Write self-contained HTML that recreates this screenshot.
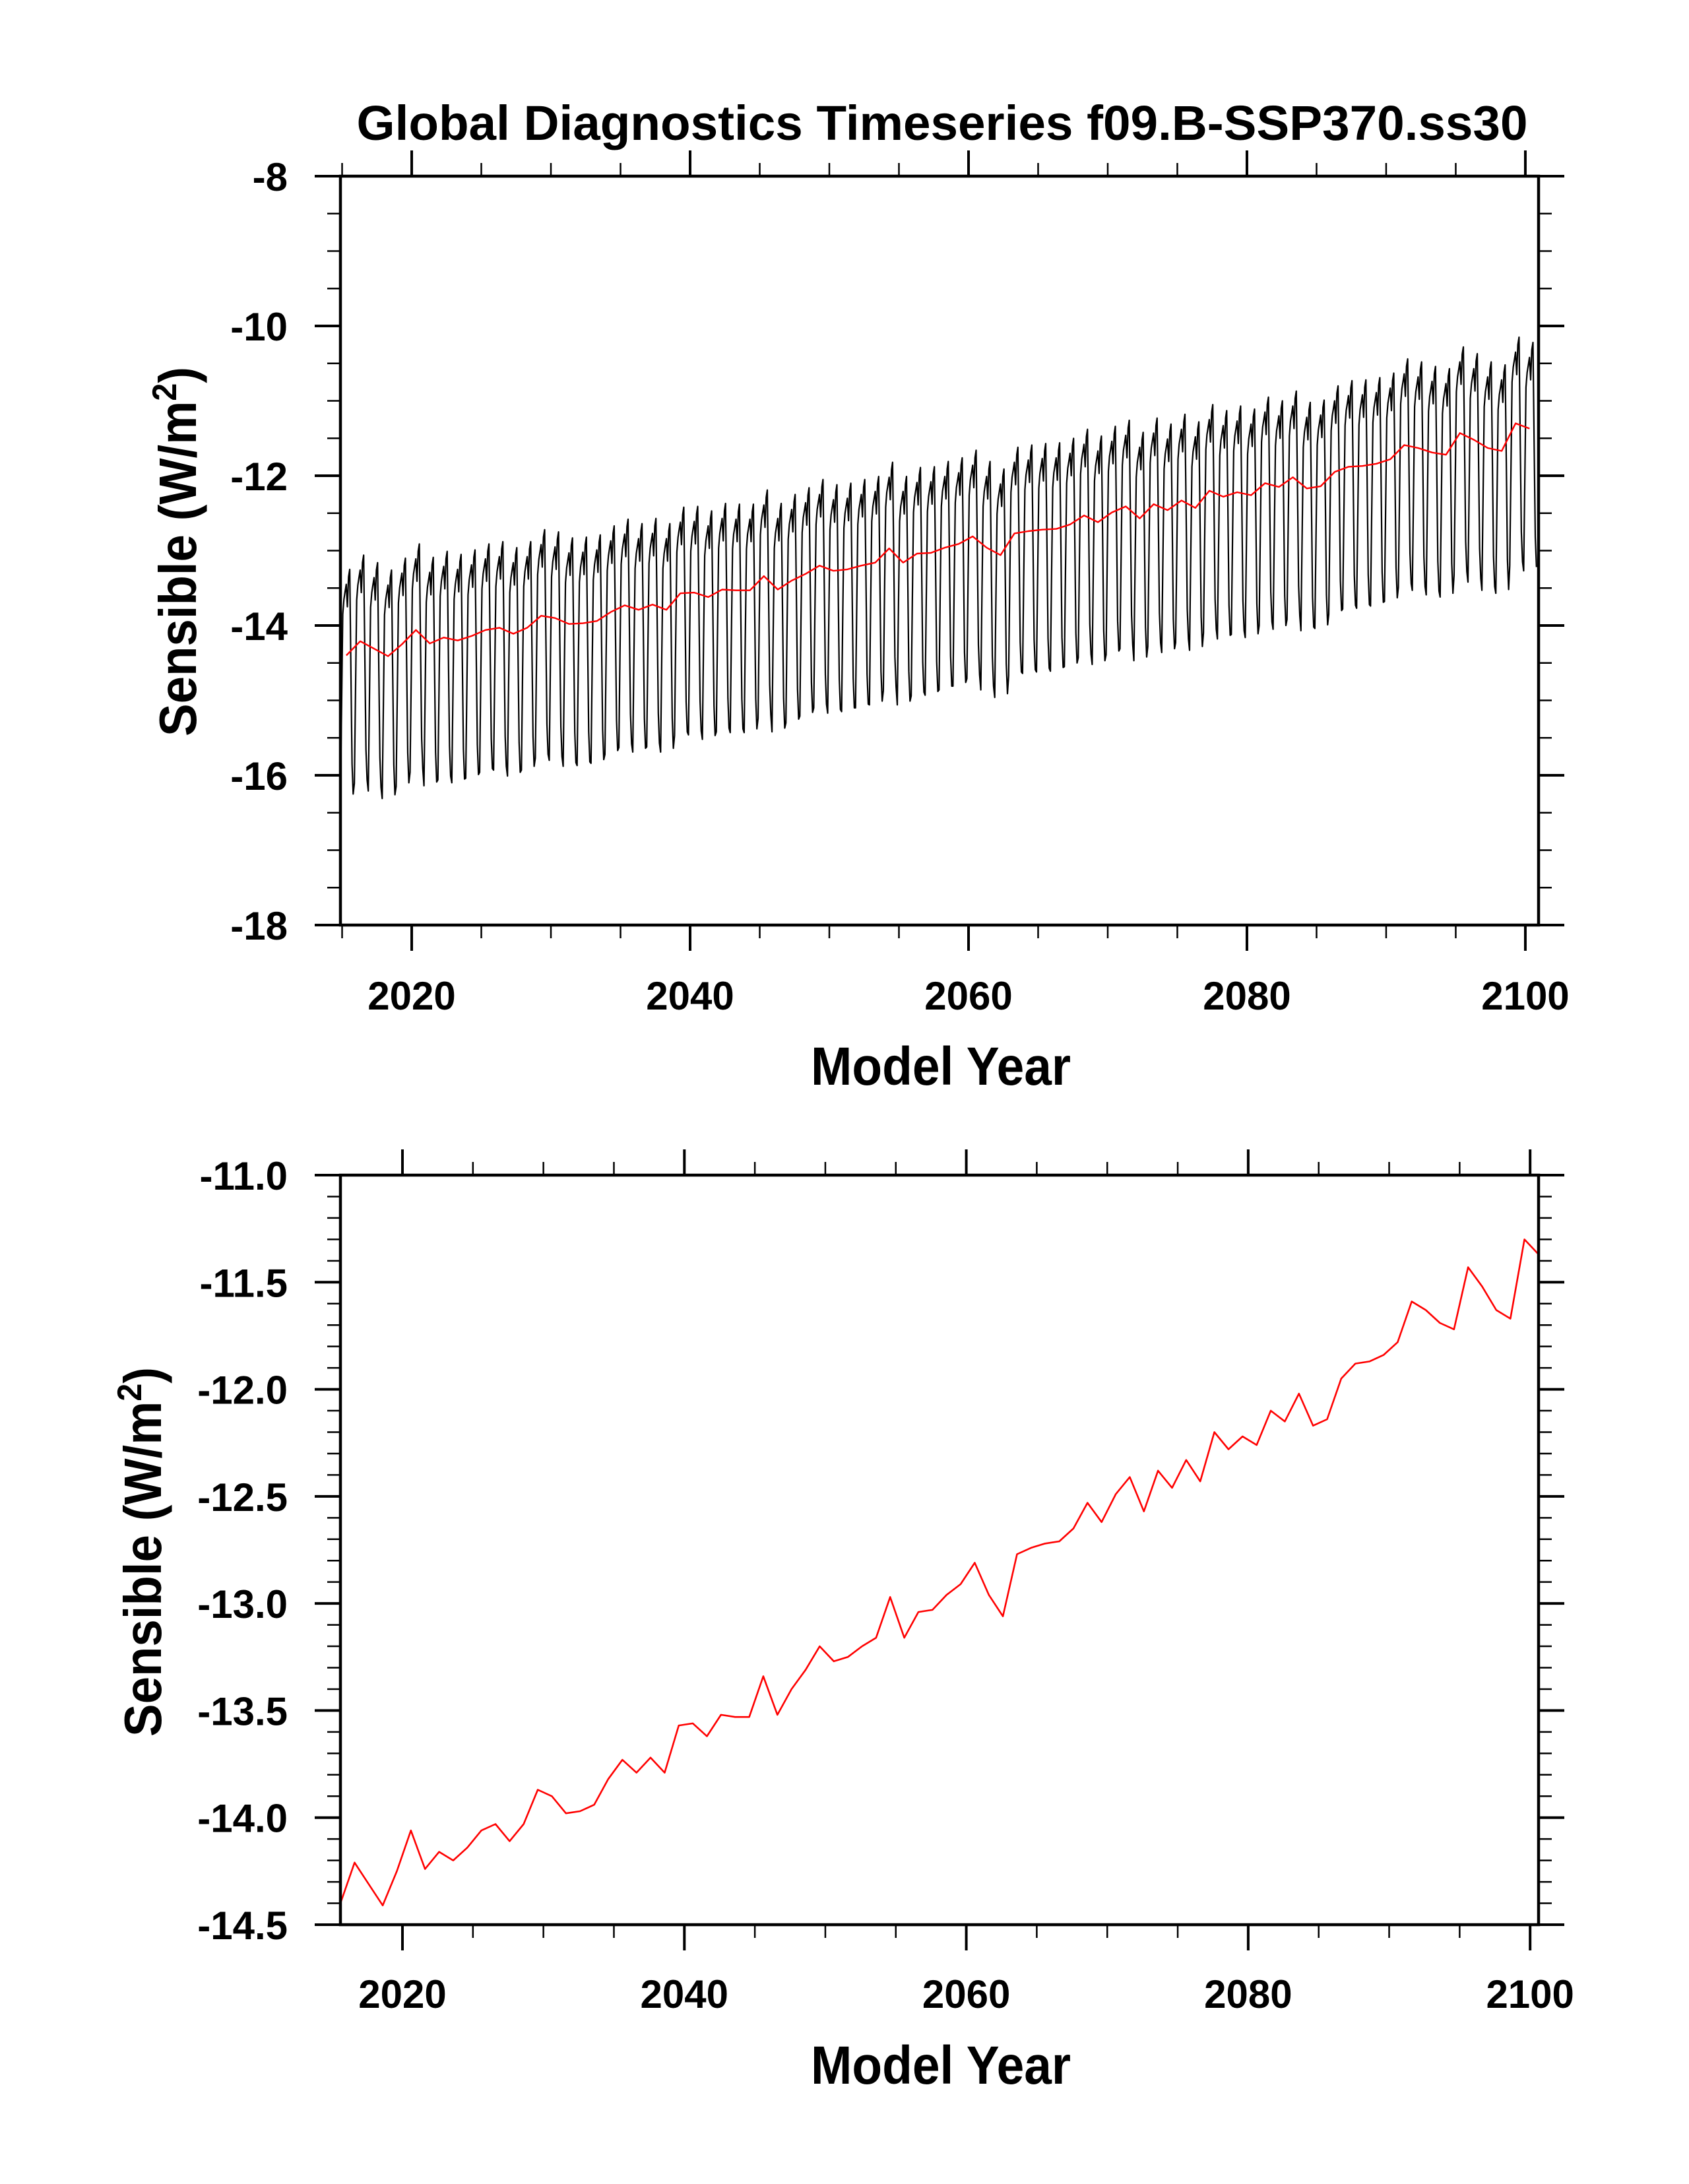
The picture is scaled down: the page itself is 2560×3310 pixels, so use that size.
<!DOCTYPE html>
<html><head><meta charset="utf-8"><style>
html,body{margin:0;padding:0;background:#fff;}
svg{display:block;}
text{font-family:"Liberation Sans",Arial,sans-serif;font-weight:bold;fill:#000;}
</style></head><body>
<svg id="fig" width="2560" height="3310" viewBox="0 0 2560 3310" xmlns="http://www.w3.org/2000/svg">
<rect width="2560" height="3310" fill="#fff"/>
<text x="1428" y="212" font-size="74" text-anchor="middle" textLength="1775" lengthAdjust="spacingAndGlyphs">Global Diagnostics Timeseries f09.B-SSP370.ss30</text>
<g id="top"></g>
<g id="bot"></g>
</svg>
<script>
// Annual mean sensible heat flux (W/m2), 86 years
const annualMeans = [-14.40,-14.21,-14.31,-14.41,-14.25,-14.06,-14.24,-14.16,-14.20,-14.14,
-14.06,-14.03,-14.11,-14.03,-13.87,-13.90,-13.98,-13.97,-13.94,-13.82,
-13.73,-13.79,-13.72,-13.79,-13.57,-13.56,-13.62,-13.52,-13.53,-13.53,
-13.34,-13.52,-13.40,-13.31,-13.20,-13.27,-13.25,-13.20,-13.16,-12.97,
-13.16,-13.04,-13.03,-12.96,-12.91,-12.81,-12.96,-13.06,-12.77,-12.74,
-12.72,-12.71,-12.65,-12.53,-12.62,-12.49,-12.41,-12.57,-12.38,-12.46,
-12.33,-12.43,-12.20,-12.28,-12.22,-12.26,-12.10,-12.15,-12.02,-12.17,
-12.14,-11.95,-11.88,-11.87,-11.84,-11.78,-11.59,-11.63,-11.69,-11.72,
-11.43,-11.52,-11.63,-11.67,-11.30,-11.37];
// Seasonal anomaly per calendar month
const seasonalAnomaly = [-1.9,-0.65,0.55,0.75,0.85,0.95,0.65,1.05,1.15,-0.15,-1.45,-1.85];
const xTickLabels = ["2020","2040","2060","2080","2100"];
const xTickYears = [2020,2040,2060,2080,2100];
const topYTicks = [-8,-10,-12,-14,-16,-18];
const topYLabels = ["-8","-10","-12","-14","-16","-18"];
const botYTicks = [-11,-11.5,-12,-12.5,-13,-13.5,-14,-14.5];
const botYLabels = ["-11.0","-11.5","-12.0","-12.5","-13.0","-13.5","-14.0","-14.5"];

const NS="http://www.w3.org/2000/svg";
function mk(parent,tag,attrs){const e=document.createElementNS(NS,tag);for(const k in attrs)e.setAttribute(k,attrs[k]);parent.appendChild(e);return e;}

function panel(g,cfg){
  const L=516,R=2332,T=cfg.top,B=cfg.bottom;
  const xs=v=>L+(v-cfg.x0)/(cfg.x1-cfg.x0)*(R-L);
  const ys=v=>T+(cfg.y1-v)/(cfg.y1-cfg.y0)*(B-T);
  if(cfg.monthly){
    let d="";
    for(let m=0;m<annualMeans.length*12;m++){
      const v=annualMeans[Math.floor(m/12)]+seasonalAnomaly[m%12];
      const t=cfg.mx0+m/12;
      d+=(m?"L":"M")+xs(t).toFixed(1)+" "+ys(v).toFixed(1);
    }
    const p=mk(g,"path",{d:d,fill:"none",stroke:"#000","stroke-width":"2.2","stroke-linejoin":"round"});
    
    
  }
  let d2="";
  annualMeans.forEach((v,i)=>{d2+=(i?"L":"M")+xs(cfg.ax0+i).toFixed(1)+" "+ys(v).toFixed(1);});
  const r=mk(g,"path",{d:d2,fill:"none",stroke:"#ff0000","stroke-width":cfg.redW,"stroke-linejoin":"round"});
  
  
  const f=mk(g,"rect",{x:L,y:T,width:R-L,height:B-T,fill:"none",stroke:"#000","stroke-width":"4.5"});
  
  
  for(let yr=2015;yr<=2100;yr+=5){
    const x=xs(yr); if(x<L-1||x>R+1) continue;
    const major=yr%20===0, len=major?39:20, w=major?4:2.5;
    mk(g,"line",{x1:x,y1:B,x2:x,y2:B+len,stroke:"#000","stroke-width":w});
    mk(g,"line",{x1:x,y1:T,x2:x,y2:T-len,stroke:"#000","stroke-width":w});
  }
  xTickYears.forEach((yr,i)=>{
    const t=mk(g,"text",{x:xs(yr),y:cfg.xlabY,"font-size":"60","text-anchor":"middle"});
    t.textContent=xTickLabels[i];
    
    
  });
  const n=Math.round((cfg.y1-cfg.y0)/cfg.minor);
  for(let k=0;k<=n;k++){
    const v=cfg.y0+k*cfg.minor, y=ys(v);
    const major=Math.abs(v/cfg.major-Math.round(v/cfg.major))<1e-6;
    const len=major?39:20, w=major?4:2.5;
    mk(g,"line",{x1:L,y1:y,x2:L-len,y2:y,stroke:"#000","stroke-width":w});
    mk(g,"line",{x1:R,y1:y,x2:R+len,y2:y,stroke:"#000","stroke-width":w});
  }
  cfg.yt.forEach((v,i)=>{
    const t=mk(g,"text",{x:436,y:ys(v)+22,"font-size":"60","text-anchor":"end"});
    t.textContent=cfg.yl[i];
    
    
  });
  const xt=mk(g,"text",{x:1426,y:cfg.xtitleY,"font-size":"82","text-anchor":"middle",textLength:"394",lengthAdjust:"spacingAndGlyphs"});
  xt.textContent="Model Year";
  
  
  const yt=mk(g,"text",{x:0,y:0,"font-size":"80","text-anchor":"middle",transform:`translate(${cfg.ytitleX},${cfg.ytitleY}) rotate(-90)`,textLength:"560",lengthAdjust:"spacingAndGlyphs"});
  yt.innerHTML='Sensible (W/m<tspan dy="-30" font-size="52">2</tspan><tspan dy="30">)</tspan>';
  
  
}
panel(document.getElementById('top'),{top:267,bottom:1402,x0:2014.88,x1:2100.95,y0:-18,y1:-8,minor:0.5,major:2,
  monthly:true,mx0:2014.88,ax0:2015.3,redW:"2.4",yt:topYTicks,yl:topYLabels,xlabY:1530,xtitleY:1644,ytitleX:297,ytitleY:836});
panel(document.getElementById('bot'),{top:1781,bottom:2917,x0:2015.6,x1:2100.6,y0:-14.5,y1:-11,minor:0.1,major:0.5,
  monthly:false,ax0:2015.6,redW:"2.6",yt:botYTicks,yl:botYLabels,xlabY:3043,xtitleY:3158,ytitleX:244,ytitleY:2352});
</script>
</body></html>
